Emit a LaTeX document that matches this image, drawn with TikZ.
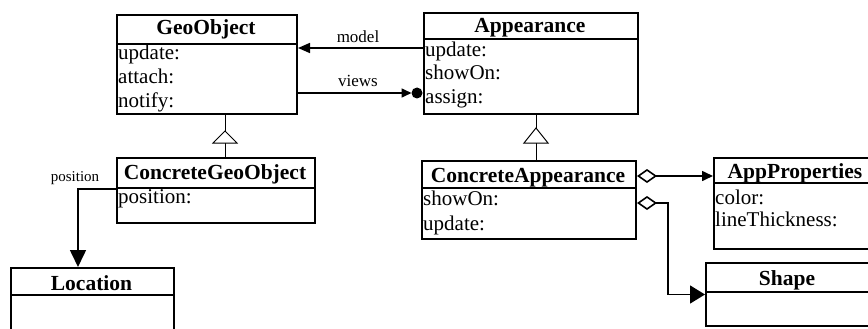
\documentclass[tikz,border=0pt]{standalone}
\usepackage{fontspec}
\setmainfont{Liberation Serif}
\usetikzlibrary{arrows.meta}
\tikzset{aggdia/.tip={Diamond[open,length=20pt,width=14pt]}}
\begin{document}
\begin{tikzpicture}[x=1pt,y=-1pt,
  box/.style={draw, line width=2pt, inner sep=0pt, anchor=north west},
  divider/.style={line width=2pt},
  ttl/.style={font=\fontsize{21.5}{24}\selectfont\bfseries, anchor=base, inner sep=0pt},
  attr/.style={font=\fontsize{21}{24}\selectfont, anchor=base west, inner sep=0pt},
  lbl/.style={font=\fontsize{17}{20}\selectfont, anchor=base, inner sep=0pt},
  smalllbl/.style={font=\fontsize{15}{18}\selectfont, anchor=base, inner sep=0pt},
  conn/.style={line width=1.6pt},
  inh/.style={line width=1pt},
  tri/.style={line width=1pt, fill=white, line join=miter},
]
\useasboundingbox (0,0) rectangle (868,329);

% GeoObject
\node[box, minimum width=180pt, minimum height=99pt] (geo) at (116,14) {};
\draw[divider] (geo.west |- 0,44) -- (geo.east |- 0,44);
\node[ttl] (geoT) at (206,35) {GeoObject};
\node[attr] (geoA1) at (118,60) {update:};
\node[attr] (geoA2) at (118,83.5) {attach:};
\node[attr] (geoA3) at (118,107) {notify:};

% Appearance
\node[box, minimum width=214pt, minimum height=101pt] (app) at (423,12) {};
\draw[divider] (app.west |- 0,39) -- (app.east |- 0,39);
\node[ttl] (appT) at (530,33) {Appearance};
\node[attr] (appA1) at (425,57) {update:};
\node[attr] (appA2) at (425,80) {showOn:};
\node[attr] (appA3) at (425,103) {assign:};

% ConcreteGeoObject
\node[box, minimum width=198pt, minimum height=65pt] (cgeo) at (116,157) {};
\draw[divider] (cgeo.west |- 0,188) -- (cgeo.east |- 0,188);
\node[ttl] (cgeoT) at (215,179) {ConcreteGeoObject};
\node[attr] (cgeoA1) at (118,203) {position:};

% Location
\node[box, minimum width=163pt, minimum height=80pt] (loc) at (10,267) {};
\draw[divider] (loc.west |- 0,295) -- (loc.east |- 0,295);
\node[ttl] (locT) at (91.5,290) {Location};

% ConcreteAppearance
\node[box, minimum width=214pt, minimum height=78pt] (capp) at (421,160) {};
\draw[divider] (capp.west |- 0,188) -- (capp.east |- 0,188);
\node[ttl] (cappT) at (528,182) {ConcreteAppearance};
\node[attr] (cappA1) at (423,205) {showOn:};
\node[attr] (cappA2) at (423,230) {update:};

% AppProperties
\node[box, minimum width=165pt, minimum height=91pt] (appp) at (713,157) {};
\draw[divider] (appp.west |- 0,183) -- (appp.east |- 0,183);
\node[ttl] (apppT) at (795,178) {AppProperties};
\node[attr] (apppA1) at (715,204) {color:};
\node[attr] (apppA2) at (715,226) {lineThickness:};

% Shape
\node[box, minimum width=165pt, minimum height=63pt] (shape) at (705,262) {};
\draw[divider] (shape.west |- 0,292) -- (shape.east |- 0,292);
\node[ttl] (shapeT) at (787,285) {Shape};

% model
\draw[conn, -{Triangle[length=12pt,width=10pt]}] (app.west |- 0,48) -- (geo.east |- 0,48);
\node[lbl] (mlab) at (358,43) {model};

% views
\coordinate (vdot) at (417,93);
\draw[conn, -{Triangle[length=10pt,width=9pt]}, shorten >=5.5pt] (geo.east |- vdot) -- (vdot);
\fill (vdot) circle (5.5pt);
\node[lbl] (vlab) at (358,87) {views};

% inheritance GeoObject
\coordinate (g1) at (225,0);
\draw[inh] (geo.south -| g1) -- (cgeo.north -| g1);
\draw[tri] (225,131) -- (213,143) -- (237,143) -- cycle;

% inheritance Appearance
\coordinate (a1) at (536,0);
\draw[inh] (app.south -| a1) -- (capp.north -| a1);
\draw[tri] (536,128) -- (524,143) -- (548,143) -- cycle;

% position
\coordinate (pp) at (78,0);
\draw[conn, -{Triangle[length=17pt,width=16pt]}] (cgeo.west |- 0,189) -| (loc.north -| pp);
\node[smalllbl] (plab) at (75,181) {position};

% aggregation to AppProperties
\draw[conn, {aggdia}-{Triangle[length=11pt,width=10pt]}] (capp.east |- 0,176) -- (appp.west |- 0,176);

% aggregation to Shape
\coordinate (bend) at (668,203);
\draw[conn, {aggdia}-{Triangle[length=15pt,width=18pt]}] (capp.east |- bend) -- (bend) |- (shape.west);
\end{tikzpicture}
\end{document}
